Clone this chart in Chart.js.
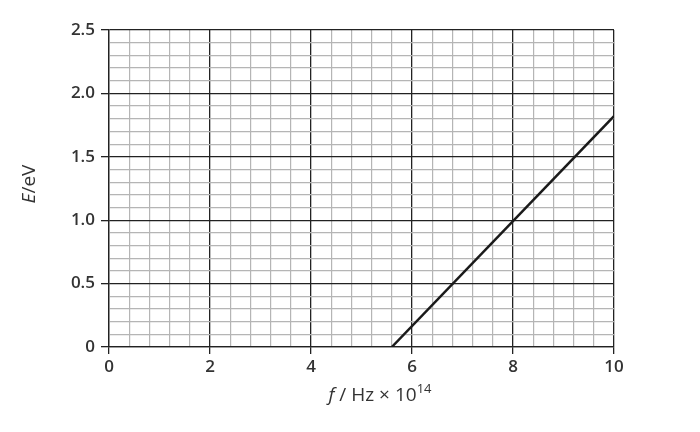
<!DOCTYPE html>
<html>
<head>
<meta charset="utf-8">
<script src="https://cdn.jsdelivr.net/npm/chart.js@4/dist/chart.umd.min.js"></script>
<style>
  html, body { margin: 0; padding: 0; background: #fff; }
  #wrap { width: 700px; height: 432px; }
</style>
</head>
<body>
<div id="wrap"><canvas id="c" width="700" height="432"></canvas></div>
<script>
// photoelectric line: E against f
const freq   = [5.6, 10];     // f / Hz x 10^14
const energy = [0, 1.82];     // E / eV
const xTicks = [0, 2, 4, 6, 8, 10];
const yTicks = [0, 0.5, 1.0, 1.5, 2.0, 2.5];

const isMajor = (v, list) => list.some(t => Math.abs(v - t) < 1e-6);
const FONT = '"Open Sans", "DejaVu Sans", sans-serif';

// axis titles drawn by hand (mixed italic + superscript)
const titles = {
  id: 'titles',
  afterDraw(chart) {
    const c = chart.ctx;
    c.save();
    c.fillStyle = '#333';
    c.translate(30, 184);
    c.rotate(-Math.PI / 2);
    c.textBaseline = 'middle';
    c.textAlign = 'left';
    c.font = 'italic 19px ' + FONT;
    const we = c.measureText('E').width;
    c.font = '19px ' + FONT;
    const wr = c.measureText('/eV').width;
    const x0 = -(we + wr) / 2;
    c.font = 'italic 19px ' + FONT;
    c.fillText('E', x0, 0);
    c.font = '19px ' + FONT;
    c.fillText('/eV', x0 + we, 0);
    c.restore();

    c.save();
    c.fillStyle = '#333';
    c.textBaseline = 'alphabetic';
    c.textAlign = 'left';
    const parts = [['italic 19px ' + FONT, 'f', 0], ['19px ' + FONT, ' / Hz \u00d7 10', 0], ['13px ' + FONT, '14', -8]];
    let total = 0;
    parts.forEach(p => { c.font = p[0]; total += c.measureText(p[1]).width; });
    let x = 380 - total / 2;
    parts.forEach(p => { c.font = p[0]; c.fillText(p[1], x, 401 + p[2]); x += c.measureText(p[1]).width; });
    c.restore();
  }
};

new Chart(document.getElementById('c'), {
  type: 'scatter',
  data: {
    datasets: [{
      data: freq.map((f, i) => ({ x: f, y: energy[i] })),
      showLine: true,
      borderColor: '#1a1a1a',
      borderWidth: 2.5,
      pointRadius: 0,
      fill: false
    }]
  },
  options: {
    responsive: false,
    animation: false,
    layout: { padding: { left: 0, right: 86, top: 30, bottom: 0 } },
    plugins: { legend: { display: false }, tooltip: { enabled: false } },
    scales: {
      x: {
        type: 'linear', min: 0, max: 10,
        afterFit: s => { s.height = 85; },
        ticks: {
          stepSize: 0.4, autoSkip: false, maxRotation: 0,
          color: '#333', font: { family: FONT, size: 17, weight: '600' }, padding: 3,
          callback: v => isMajor(v, xTicks) ? String(Math.round(v)) : ''
        },
        grid: {
          color: ctx => isMajor(ctx.tick.value, xTicks) ? '#222' : '#b5b5b5',
          lineWidth: ctx => isMajor(ctx.tick.value, xTicks) ? 1.3 : 1.2,
          tickColor: ctx => isMajor(ctx.tick.value, xTicks) ? '#222' : 'rgba(0,0,0,0)',
          tickLength: 7
        },
        border: { color: '#222', width: 1.3 }
      },
      y: {
        type: 'linear', min: 0, max: 2.5,
        afterFit: s => { s.width = 109; },
        ticks: {
          stepSize: 0.1, autoSkip: false,
          color: '#333', font: { family: FONT, size: 17, weight: '600' }, padding: 6,
          callback: v => isMajor(v, yTicks) ? (Math.abs(v) < 1e-6 ? '0' : v.toFixed(1)) : ''
        },
        grid: {
          color: ctx => isMajor(ctx.tick.value, yTicks) ? '#222' : '#b5b5b5',
          lineWidth: ctx => isMajor(ctx.tick.value, yTicks) ? 1.3 : 1.2,
          tickColor: ctx => isMajor(ctx.tick.value, yTicks) ? '#222' : 'rgba(0,0,0,0)',
          tickLength: 8
        },
        border: { color: '#222', width: 1.3 }
      }
    }
  },
  plugins: [titles]
});
</script>
</body>
</html>
